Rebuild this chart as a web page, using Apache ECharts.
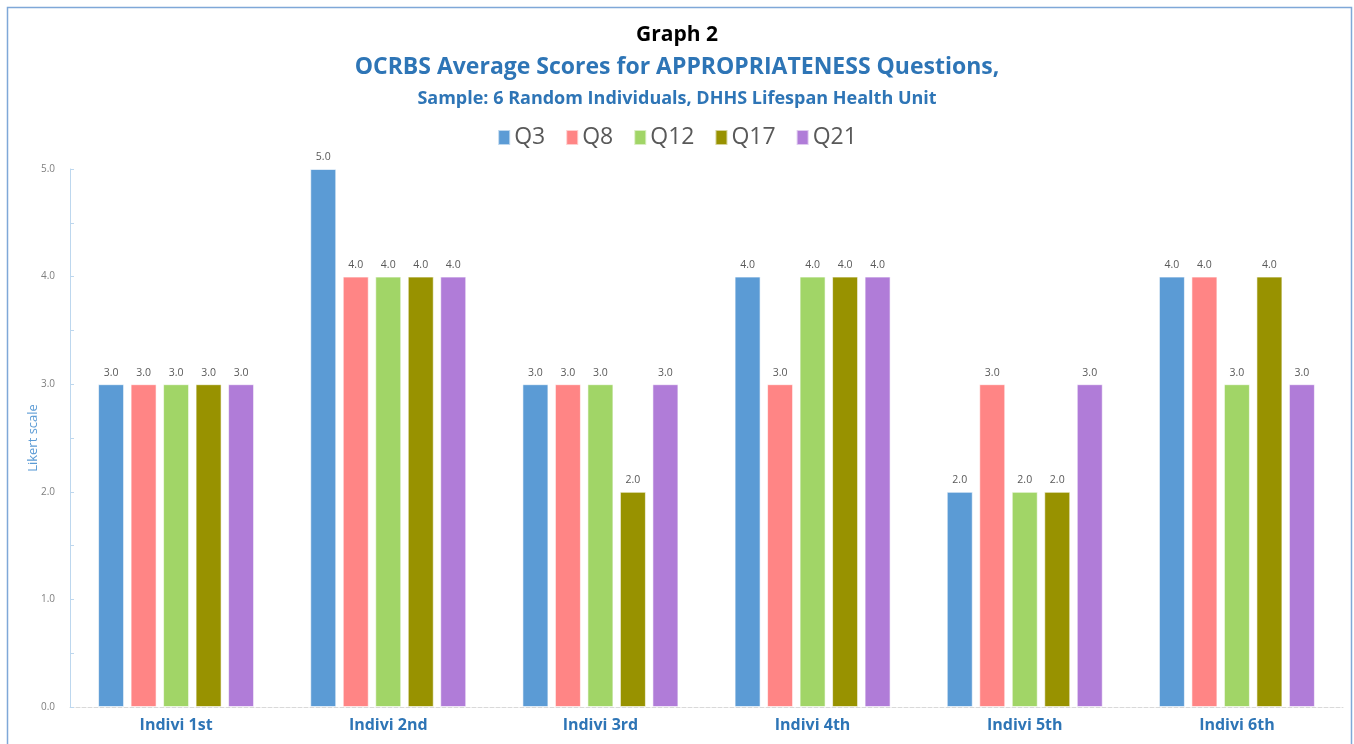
<!DOCTYPE html>
<html><head><meta charset="utf-8">
<script src="https://cdn.jsdelivr.net/npm/echarts@6/dist/echarts.min.js"></script>
<style>html,body{margin:0;padding:0;background:#fff}#c{width:1354px;height:744px}</style>
</head><body><div id="c"></div>
<script>
const categories = ['Indivi 1st','Indivi 2nd','Indivi 3rd','Indivi 4th','Indivi 5th','Indivi 6th'];
const seriesNames = ['Q3','Q8','Q12','Q17','Q21'];
const q3  = [3,5,3,4,2,4];
const q8  = [3,4,3,3,3,4];
const q12 = [3,4,3,4,2,3];
const q17 = [3,4,2,4,2,4];
const q21 = [3,4,3,4,3,3];
const yTicks = [0,1,2,3,4,5];
const values = [q3,q8,q12,q17,q21];
const colors = ['#5B9BD5','#FF8585','#A1D567','#989200','#B07CD8'];
const FONT = '"Open Sans",sans-serif';
const chart = echarts.init(document.getElementById('c'));
chart.setOption({
  animation:false,
  title:[
    {text:'Graph 2',left:'center',top:20,textStyle:{fontFamily:FONT,fontSize:21,fontWeight:'bold',color:'#000'}},
    {text:'OCRBS Average Scores for APPROPRIATENESS Questions,',left:'center',top:51,textStyle:{fontFamily:FONT,fontSize:23,fontWeight:'bold',color:'#2E75B6'}},
    {text:'Sample: 6 Random Individuals, DHHS Lifespan Health Unit',left:'center',top:85,textStyle:{fontFamily:FONT,fontSize:18,fontWeight:'bold',color:'#2E75B6'}}
  ],
  graphic:[{type:'rect',shape:{x:7.5,y:7.5,width:1344,height:760},style:{fill:'none',stroke:'#7FA8D8',lineWidth:1.5},silent:true}],
  legend:{top:121,left:'center',itemWidth:12,itemHeight:15,itemGap:20,icon:'rect',
    textStyle:{fontFamily:FONT,fontSize:23,color:'#595959',padding:[0,0,0,-1]},data:seriesNames},
  grid:{left:70,right:11,top:169,bottom:37,containLabel:false},
  xAxis:{type:'category',data:categories,
    axisLine:{lineStyle:{color:'#D9D9D9',type:'dashed',width:1}},
    axisTick:{show:false},
    axisLabel:{fontFamily:FONT,fontSize:16,fontWeight:'bold',color:'#2E75B6',margin:10}},
  yAxis:{type:'value',min:0,max:5,interval:1,
    name:'Likert scale',nameLocation:'middle',nameGap:30,nameRotate:90,nameMoveOverlap:false,
    nameTextStyle:{fontFamily:FONT,fontSize:13,color:'#5B9BD5'},
    axisLine:{show:true,lineStyle:{color:'#BDD7EE'}},
    axisTick:{show:true,length:4,inside:true,lineStyle:{color:'#BDD7EE'}},
    minorTick:{show:true,splitNumber:2,length:4,lineStyle:{color:'#BDD7EE'}},
    splitLine:{show:false},
    axisLabel:{fontFamily:FONT,fontSize:10,color:'#7F7F7F',margin:15,
      formatter:v=>yTicks.includes(v)?v.toFixed(1):''}},
  series: seriesNames.map((n,i)=>({
    name:n,type:'bar',data:values[i],barWidth:26,barGap:'25%',
    itemStyle:{color:colors[i],borderColor:'rgba(255,255,255,0.6)',borderWidth:1},
    label:{show:true,position:'top',distance:6,fontFamily:FONT,fontSize:10.5,color:'#595959',formatter:p=>p.value.toFixed(1)}
  }))
});
</script></body></html>
